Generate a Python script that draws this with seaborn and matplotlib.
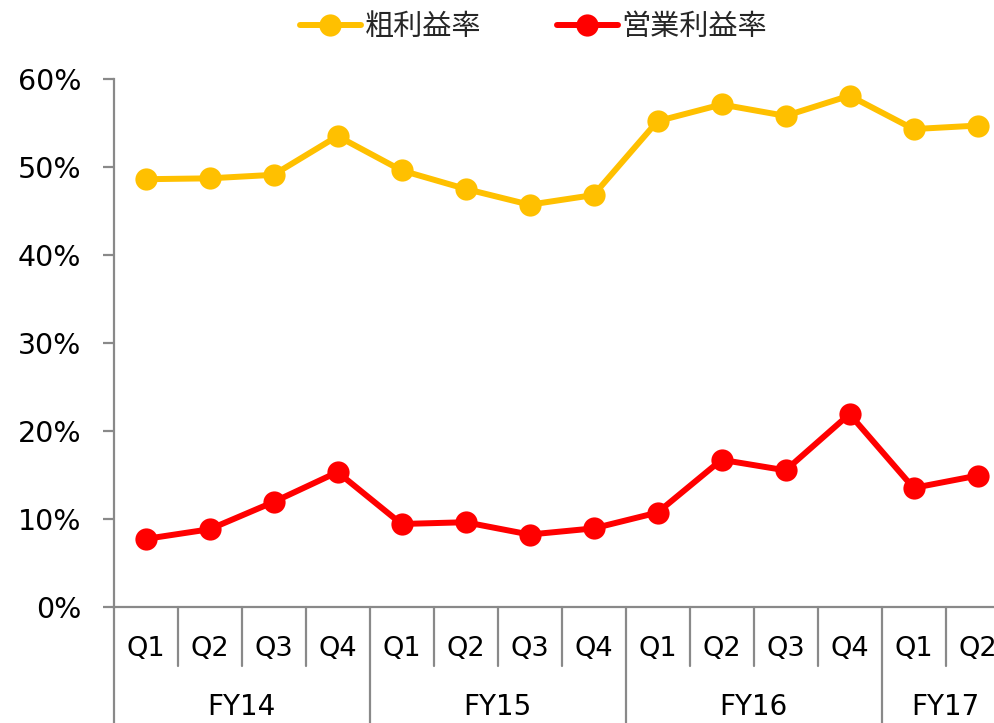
import matplotlib
matplotlib.use("Agg")
import matplotlib.pyplot as plt
import matplotlib.transforms as mtransforms
from matplotlib.lines import Line2D
import seaborn as sns
import pandas as pd
import numpy as np

# ---- data ----
quarters = ["Q1", "Q2", "Q3", "Q4", "Q1", "Q2", "Q3", "Q4",
            "Q1", "Q2", "Q3", "Q4", "Q1", "Q2"]
years = ["FY14", "FY15", "FY16", "FY17"]
year_sizes = [4, 4, 4, 2]
gross_margin = [48.6, 48.7, 49.1, 53.5, 49.6, 47.5, 45.7, 46.8,
                55.2, 57.1, 55.8, 58.1, 54.3, 54.7]
operating_margin = [7.7, 8.8, 11.9, 15.3, 9.4, 9.6, 8.2, 8.9,
                    10.7, 16.7, 15.5, 21.9, 13.5, 14.9]
series_names = ["粗利益率", "営業利益率"]
series_colors = ["#FFC000", "#FF0000"]
y_ticks = [0, 10, 20, 30, 40, 50, 60]

sns.set_style("white")
plt.rcParams["font.family"] = ["DejaVu Sans", "Noto Sans CJK JP"]

axis_gray = "#898989"

fig = plt.figure(figsize=(9.95, 7.23), dpi=100)
ax = fig.add_axes([0.1141, 0.1609, 0.9005, 0.7299])

idx = np.arange(len(quarters))
df = pd.DataFrame({
    "idx": np.concatenate([idx, idx]),
    "value": gross_margin + operating_margin,
    "series": [series_names[0]] * len(idx) + [series_names[1]] * len(idx),
})

for name, color in zip(series_names, series_colors):
    sub = df[df["series"] == name]
    sns.lineplot(data=sub, x="idx", y="value", ax=ax, color=color,
                 linewidth=4.3, marker="o", markersize=16,
                 markeredgewidth=0, legend=False, zorder=3, clip_on=False)

ax.set_xlim(-0.5, len(quarters) - 0.5)
ax.set_ylim(0, 60)
ax.set_yticks(y_ticks)
ax.set_yticklabels([f"{t}%" for t in y_ticks], fontsize=20.5, color="black")
ax.set_xticks([])
ax.set_xlabel("")
ax.set_ylabel("")

for s in ["top", "right"]:
    ax.spines[s].set_visible(False)
for s in ["left", "bottom"]:
    ax.spines[s].set_color(axis_gray)
    ax.spines[s].set_linewidth(1.6)

ax.tick_params(axis="y", which="major", direction="out", length=8,
               width=1.6, color=axis_gray, pad=15, left=True)

# multi-level category axis
trans = mtransforms.blended_transform_factory(ax.transData, ax.transAxes)
q_bottom = -0.1124
fy_bottom = -0.23
boundaries = np.cumsum([0] + year_sizes) - 0.5
for i in range(len(quarters) + 1):
    xb = i - 0.5
    if xb in boundaries:
        ax.plot([xb, xb], [0, fy_bottom], transform=trans, color=axis_gray,
                lw=1.6, clip_on=False)
    else:
        ax.plot([xb, xb], [0, q_bottom], transform=trans, color=axis_gray,
                lw=1.6, clip_on=False)

for i, q in enumerate(quarters):
    ax.text(i, -0.080, q, transform=trans, ha="center", va="center",
            fontsize=19.5, color="black")

for k, (yr, n) in enumerate(zip(years, year_sizes)):
    center = (boundaries[k] + boundaries[k + 1]) / 2
    ax.text(center, -0.1895, yr, transform=trans, ha="center", va="center",
            fontsize=20, color="black")

handles = [Line2D([0], [0], color=c, lw=4.3, marker="o", markersize=16,
                  markeredgewidth=0) for c in series_colors]
fig.legend(handles, series_names, loc="center", bbox_to_anchor=(0.536, 0.963),
           ncol=2, frameon=False, handlelength=2.1,
           handletextpad=0.12, columnspacing=2.6,
           prop={"family": ["Noto Sans CJK JP", "DejaVu Sans"], "size": 21})

fig.savefig("out.png", dpi=100)
